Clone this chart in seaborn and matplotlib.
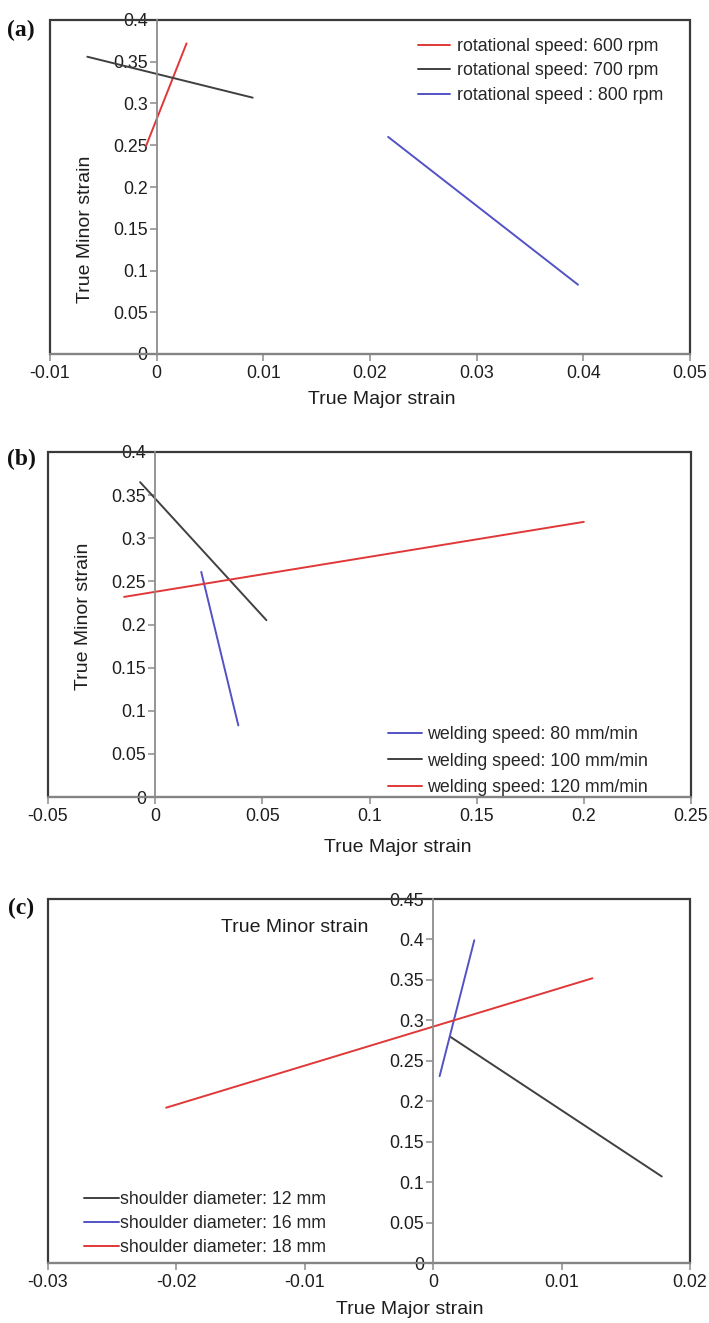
import numpy as np
import pandas as pd
import matplotlib
matplotlib.use('Agg')
import matplotlib.pyplot as plt
import seaborn as sns
from matplotlib.ticker import MultipleLocator, FuncFormatter
from matplotlib.patches import Rectangle

sns.set_theme(style='white')
plt.rcParams['font.family'] = ['Liberation Sans', 'DejaVu Sans']

# ---------------- data ----------------
a_labels = ['rotational speed: 600 rpm', 'rotational speed: 700 rpm', 'rotational speed : 800 rpm']
a_major = [[-0.0010, 0.0028], [-0.0065, 0.0090], [0.0217, 0.0395]]
a_minor = [[0.249, 0.372], [0.356, 0.307], [0.260, 0.083]]

b_labels = ['welding speed: 80 mm/min', 'welding speed: 100 mm/min', 'welding speed: 120 mm/min']
b_major = [[0.0215, 0.0388], [-0.0070, 0.0519], [-0.0145, 0.2000]]
b_minor = [[0.261, 0.083], [0.365, 0.205], [0.232, 0.319]]

c_labels = ['shoulder diameter: 12 mm', 'shoulder diameter: 16 mm', 'shoulder diameter: 18 mm']
c_major = [[0.0013, 0.0178], [0.0005, 0.0032], [-0.0208, 0.0124]]
c_minor = [[0.280, 0.107], [0.231, 0.399], [0.192, 0.352]]

RED, DARK, BLUE = '#e03838', '#404040', '#5252c6'
a_colors = [RED, DARK, BLUE]
b_colors = [BLUE, DARK, RED]
c_colors = [DARK, BLUE, RED]

W, H = 709, 1323
fig = plt.figure(figsize=(W / 100, H / 100), dpi=100)


def axes_px(left, top, right, bottom):
    return fig.add_axes([left / W, (H - bottom) / H, (right - left) / W, (bottom - top) / H])


def fmt(v, p):
    if abs(v) < 1e-12:
        return '0'
    return '%g' % round(v, 4)


def draw(ax, labels, majors, minors, colors, xlim, xstep, ylim, ystep, leg_xy, hl, htp, ls):
    rows = []
    for lab, xs, ys in zip(labels, majors, minors):
        for i, (x, y) in enumerate(zip(xs, ys)):
            rows.append({'series': lab, 'major': x, 'minor': y, 'i': i})
    df = pd.DataFrame(rows)
    sns.lineplot(data=df, x='major', y='minor', hue='series', hue_order=labels,
                 palette=dict(zip(labels, colors)), sort=False, estimator=None,
                 lw=1.4, ax=ax)
    ax.set_xlim(xlim)
    ax.set_ylim(ylim)
    ax.xaxis.set_major_locator(MultipleLocator(xstep))
    ax.yaxis.set_major_locator(MultipleLocator(ystep))
    ax.xaxis.set_major_formatter(FuncFormatter(fmt))
    ax.yaxis.set_major_formatter(FuncFormatter(fmt))
    ax.set_xlabel('')
    ax.set_ylabel('')
    for s in ['top', 'right']:
        ax.spines[s].set_visible(False)
    ax.spines['left'].set_position(('data', 0))
    for s in ['left', 'bottom']:
        ax.spines[s].set_color('#8c8c8c')
        ax.spines[s].set_linewidth(1.3)
        ax.spines[s].set_zorder(3)
    ax.tick_params(axis='both', which='major', bottom=True, left=True, direction='out',
                   length=5, width=1.1, color='#8c8c8c', labelsize=12.8,
                   labelcolor='#1e1e1e')
    ax.tick_params(axis='y', pad=1.5)
    ax.tick_params(axis='x', pad=3)
    ax.add_patch(Rectangle((0, 0), 1, 1, transform=ax.transAxes, fill=False,
                           ec='#3a3a3a', lw=1.6, clip_on=False, zorder=2))
    ax.set_facecolor('white')
    h, l = ax.get_legend_handles_labels()
    ax.legend(h, l, loc='upper left', bbox_to_anchor=leg_xy, frameon=False,
              fontsize=12.8, handlelength=hl, handletextpad=htp, labelspacing=ls,
              borderpad=0, borderaxespad=0)


# (a)
ax_a = axes_px(50, 20, 690, 354)
draw(ax_a, a_labels, a_major, a_minor, a_colors, (-0.01, 0.05), 0.01, (0, 0.4), 0.05,
     ((418 - 50) / 640, (354 - 38) / 334), 1.8, 0.38, 0.42)
# (b)
ax_b = axes_px(48, 452, 691, 797)
draw(ax_b, b_labels, b_major, b_minor, b_colors, (-0.05, 0.25), 0.05, (0, 0.4), 0.05,
     ((388 - 48) / 643, (797 - 726) / 345), 1.9, 0.28, 0.54)
# (c)
ax_c = axes_px(48, 899, 690, 1263)
draw(ax_c, c_labels, c_major, c_minor, c_colors, (-0.03, 0.02), 0.01, (0, 0.45), 0.05,
     ((84 - 48) / 642, (1263 - 1191) / 364), 1.95, 0.1, 0.39)


def ftext(x, y, s, **kw):
    fig.text(x / W, 1 - y / H, s, ha='center', va='center', **kw)


lab_kw = dict(fontsize=14, color='#1e1e1e')
# axis labels
ftext(86, 229, 'True Minor strain', rotation=90, **lab_kw)
ftext(382, 400, 'True Major strain', **lab_kw)
ftext(83, 616, 'True Minor strain', rotation=90, **lab_kw)
ftext(398, 847, 'True Major strain', **lab_kw)
ftext(295, 928, 'True Minor strain', **lab_kw)
ftext(410, 1310, 'True Major strain', **lab_kw)

# panel letters
let_kw = dict(fontsize=17, fontweight='bold', family='Liberation Serif', color='#111111')
ftext(21, 30, '(a)', **let_kw)
ftext(21, 459, '(b)', **let_kw)
ftext(21, 908, '(c)', **let_kw)

fig.savefig('out.png', dpi=100, facecolor='white')
